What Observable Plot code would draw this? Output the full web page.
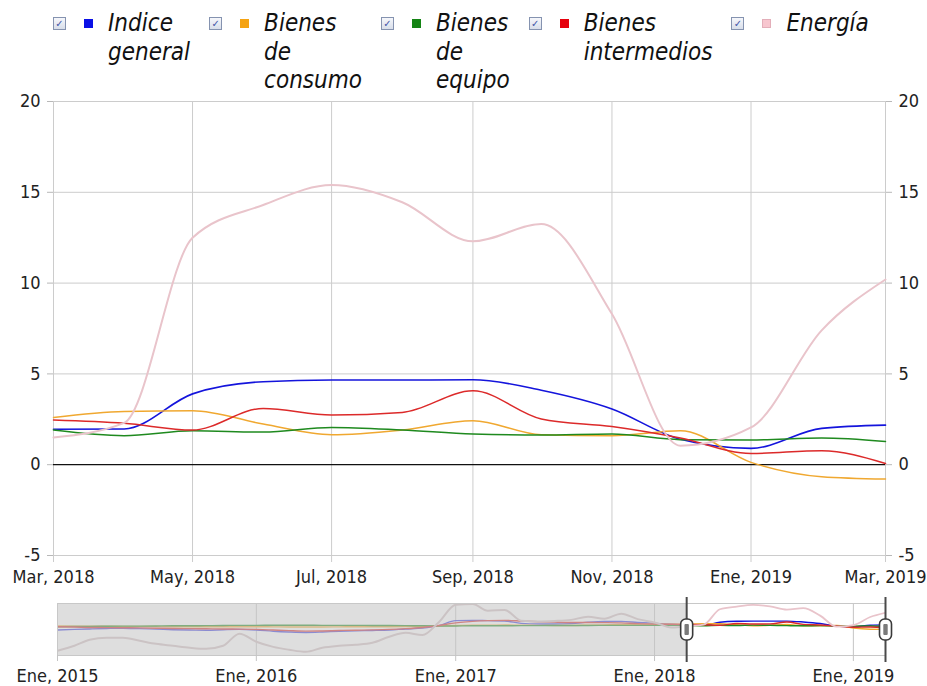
<!DOCTYPE html>
<html><head><meta charset="utf-8">
<script src="https://cdn.jsdelivr.net/npm/d3@7"></script>
<script src="https://cdn.jsdelivr.net/npm/@observablehq/plot@0.6"></script>
<style>
html,body{margin:0;padding:0;background:#fff;}
#chart{position:relative;width:927px;height:686px;overflow:hidden;color:#222;}
#legend{position:absolute;left:53px;top:9px;display:flex;align-items:flex-start;}
.item{display:flex;align-items:flex-start;margin-right:19px;}
.cb{box-sizing:border-box;width:13px;height:13px;border:1px solid #8593b0;background:linear-gradient(#f6f7fb,#d8deea);margin-top:8px;margin-right:18px;font:bold 10px/11px "DejaVu Sans",sans-serif;text-align:center;color:#3f55a8;}
.sw{width:9px;height:9px;margin-top:10px;margin-right:15px;}
.lab{font-style:italic;width:min-content;line-height:28.5px;color:#111;}
#main{position:absolute;left:0;top:90px;}
#nav{position:absolute;left:0;top:593px;}
</style></head><body>
<div id="chart"><div id="legend"></div><div id="main"></div><div id="nav"></div></div>
<script>
// ---------- data ----------
const seriesNames = ["Indice general", "Bienes de consumo", "Bienes de equipo", "Bienes intermedios", "Energía"];
const monthNames = ["Ene","Feb","Mar","Abr","May","Jun","Jul","Ago","Sep","Oct","Nov","Dic"];
const months = ["2018-03-01","2018-04-01","2018-05-01","2018-06-01","2018-07-01","2018-08-01","2018-09-01",
                "2018-10-01","2018-11-01","2018-12-01","2019-01-01","2019-02-01","2019-03-01"];
const indiceGeneral     = [1.95, 1.97, 3.9, 4.57, 4.66, 4.66, 4.68, 4.1, 3.07, 1.4, 0.9, 2.0, 2.18];
const bienesConsumo     = [2.6, 2.93, 2.97, 2.24, 1.65, 1.91, 2.42, 1.65, 1.6, 1.87, 0.13, -0.66, -0.79];
const bienesEquipo      = [1.91, 1.6, 1.87, 1.8, 2.05, 1.91, 1.69, 1.63, 1.69, 1.38, 1.36, 1.47, 1.28];
const bienesIntermedios = [2.46, 2.28, 1.91, 3.1, 2.74, 2.88, 4.07, 2.52, 2.1, 1.47, 0.62, 0.77, 0.07];
const energia           = [1.5, 2.3, 12.5, 14.3, 15.4, 14.45, 12.3, 13.25, 8.3, 1.05, 2.05, 7.4, 10.2];
const yTicks = [-5, 0, 5, 10, 15, 20];

// navigator history: Ene 2015 .. Feb 2018 (monthly)
const navIndice = [-1.2,-0.8,-0.5,-0.2,0.0,-0.3,-0.6,-1.0,-1.2,-1.3,-1.0,-0.8,
  -1.2,-2.0,-2.5,-2.8,-2.5,-2.0,-1.7,-1.5,-1.2,-0.5,0.1,1.7,
  5.0,5.2,5.0,4.8,3.2,2.8,2.8,3.0,4.0,4.5,4.5,3.8, 3.2,2.6];
const navConsumo = [1.5,1.4,1.3,1.3,1.2,1.2,1.1,1.0,1.0,1.0,1.0,1.0,
  1.0,0.9,0.8,0.8,0.8,0.9,1.0,1.0,1.0,1.1,1.2,1.5,
  1.8,2.0,2.0,2.1,2.0,1.9,1.8,1.8,2.0,2.2,2.4,2.5, 2.6,2.6];
const navEquipo = [1.0,1.1,1.2,1.3,1.4,1.4,1.5,1.6,1.6,1.7,1.8,1.9,
  1.9,2.0,2.0,2.0,1.9,1.9,1.9,1.8,1.8,1.7,1.6,1.5,
  1.5,1.6,1.6,1.6,1.7,1.7,1.8,1.8,1.8,1.9,1.9,1.9, 1.9,1.9];
const navIntermedios = [1.0,0.8,0.5,0.4,0.3,0.2,0.0,-0.2,-0.3,-0.4,-0.5,-0.6,
  -0.8,-1.2,-1.6,-1.9,-1.8,-1.5,-1.3,-1.1,-0.8,-0.3,0.5,1.8,
  3.5,4.5,5.0,5.2,4.8,4.3,4.0,3.8,3.8,3.7,3.5,3.0, 2.7,2.6];
const navEnergia = [-14.9,-11.6,-7.6,-6.3,-6.3,-8.3,-10.3,-11.6,-12.9,-13.6,-11.6,-3.6,
  -8.9,-12.3,-14.2,-15.6,-12.9,-11.6,-10.9,-9.6,-5.6,-3.0,-4.5,4.0,
  15.5,16.0,11.6,12.0,5.0,4.5,4.8,5.5,7.6,6.3,9.6,6.0, 3.8,0.5];

// ---------- styles ----------
const lineColors = ["#1414dc", "#f0a830", "#1f8a1f", "#dc2a2a", "#e9c4cb"];
const navHistColors = ["#3a3ae0", "#f0a830", "#1f8a1f", "#dc2a2a", "#d2bfc2"];
const legendColors = ["#0a10e6", "#f5a312", "#148414", "#e6000c", "#f7c6cf"];
const lineWidths = [1.6, 1.5, 1.5, 1.5, 2];

function fontAvailable(name) {
  const ctx = document.createElement("canvas").getContext("2d");
  const s = "Mar, 2018 Bienes intermedios";
  for (const base of ["monospace", "serif"]) {
    ctx.font = `40px ${base}`; const w0 = ctx.measureText(s).width;
    ctx.font = `40px "${name}", ${base}`; const w1 = ctx.measureText(s).width;
    if (Math.abs(w0 - w1) > 0.01) return true;
  }
  return false;
}
const condensed = fontAvailable("DejaVu Sans Condensed");
const FONT = condensed ? '"DejaVu Sans Condensed", "DejaVu Sans", sans-serif' : '"DejaVu Sans", sans-serif';
const TICK_PX = condensed ? 18 : 16;
const LEG_PX = condensed ? 24 : 21.5;

// ---------- legend ----------
const legend = document.getElementById("legend");
seriesNames.forEach((name, i) => {
  const item = document.createElement("div"); item.className = "item";
  const cb = document.createElement("div"); cb.className = "cb"; cb.textContent = "✓";
  const sw = document.createElement("div"); sw.className = "sw"; sw.style.background = legendColors[i];
  if (i === 4) { sw.style.boxSizing = "border-box"; sw.style.border = "1px solid #e3aeb9"; }
  const lab = document.createElement("div"); lab.className = "lab"; lab.textContent = name;
  lab.style.fontFamily = FONT; lab.style.fontSize = LEG_PX + "px";
  item.append(cb, sw, lab); legend.append(item);
});

// ---------- main chart ----------
const dates = months.map(d => new Date(d + "T00:00:00Z"));
const mainValues = [indiceGeneral, bienesConsumo, bienesEquipo, bienesIntermedios, energia];
const fmt = d => `${monthNames[d.getUTCMonth()]}, ${d.getUTCFullYear()}`;
const fmtY = v => String(v);
const xTicks = d3.utcMonth.every(2).range(dates[0], new Date(+dates[dates.length - 1] + 1));

const main = Plot.plot({
  width: 927, height: 503,
  marginTop: 11, marginBottom: 38, marginLeft: 53, marginRight: 42,
  style: {fontFamily: FONT, fontSize: TICK_PX + "px", color: "#222", background: "transparent", overflow: "visible"},
  x: {type: "utc", domain: [dates[0], dates[dates.length - 1]]},
  y: {domain: [-5, 20]},
  marks: [
    Plot.gridY(yTicks.filter(v => v !== 0), {stroke: "#cccccc", strokeOpacity: 1}),
    Plot.gridX(xTicks, {stroke: "#cccccc", strokeOpacity: 1}),
    Plot.axisY(yTicks, {anchor: "left", tickSize: 6, tickPadding: 7, stroke: "#b8b8b8", fill: "#222", tickFormat: fmtY, label: null}),
    Plot.axisY(yTicks, {anchor: "right", tickSize: 6, tickPadding: 7, stroke: "#b8b8b8", fill: "#222", tickFormat: fmtY, label: null}),
    Plot.axisX(xTicks, {anchor: "bottom", tickSize: 7, tickPadding: 8, stroke: "#cccccc", fill: "#222", tickFormat: fmt, label: null}),
    Plot.ruleY([0], {stroke: "#111", strokeWidth: 1.3}),
    ...mainValues.map((vals, i) => Plot.line(vals.map((v, j) => ({date: dates[j], value: v})),
      {x: "date", y: "value", stroke: lineColors[i], strokeWidth: lineWidths[i], curve: "monotone-x"}))
  ]
});
document.getElementById("main").append(main);

// ---------- navigator ----------
const navDates = d3.utcMonth.range(new Date("2015-01-01T00:00:00Z"), dates[0]);
const navHistory = [navIndice, navConsumo, navEquipo, navIntermedios, navEnergia];
const allDates = navDates.concat(dates);
const navTicks = d3.utcYear.range(allDates[0], new Date(+dates[dates.length - 1] + 1));
const selStart = dates[0], selEnd = dates[dates.length - 1];

function roundRect(w, h, r) {
  return {draw(ctx) {
    ctx.moveTo(-w + r, -h); ctx.lineTo(w - r, -h); ctx.arcTo(w, -h, w, -h + r, r);
    ctx.lineTo(w, h - r); ctx.arcTo(w, h, w - r, h, r);
    ctx.lineTo(-w + r, h); ctx.arcTo(-w, h, -w, h - r, r);
    ctx.lineTo(-w, -h + r); ctx.arcTo(-w, -h, -w + r, -h, r); ctx.closePath();
  }};
}
const knob = roundRect(6, 10.5, 5);
const knobBar = roundRect(2.2, 5.5, 1);

const nav = Plot.plot({
  width: 927, height: 93,
  marginTop: 10, marginBottom: 31, marginLeft: 57, marginRight: 42,
  style: {fontFamily: FONT, fontSize: TICK_PX + "px", color: "#222", background: "transparent", overflow: "visible"},
  x: {type: "utc", domain: [allDates[0], selEnd]},
  y: {domain: [-18, 16.3], axis: null},
  marks: [
    Plot.gridX(navTicks, {stroke: "#c4c4c4", strokeOpacity: 1}),
    // history part (behind the gray mask)
    ...navHistory.map((hist, i) => Plot.line(hist.concat(mainValues[i][0]).map((v, j) => ({date: allDates[j], value: v})),
      {x: "date", y: "value", stroke: navHistColors[i], strokeWidth: i === 4 ? 2 : 1.4, curve: "monotone-x", clip: true})),
    Plot.rect([{a: allDates[0], b: selStart}], {x1: "a", x2: "b", fill: "#c6c6c6", fillOpacity: 0.58}),
    // selected part
    ...mainValues.map((vals, i) => Plot.line(vals.map((v, j) => ({date: dates[j], value: v})),
      {x: "date", y: "value", stroke: lineColors[i], strokeWidth: i === 4 ? 1.8 : 1.4, curve: "monotone-x", clip: true})),
    Plot.frame({stroke: "#c8c8c8"}),
    Plot.axisX(navTicks, {anchor: "bottom", tickSize: 6, tickPadding: 8, stroke: "#c4c4c4", fill: "#222", tickFormat: fmt, label: null}),
    Plot.ruleX([selStart, selEnd], {stroke: "#4a4a4a", strokeWidth: 2, insetTop: -6, insetBottom: -7}),
    Plot.dot([selStart, selEnd], {x: d => d, frameAnchor: "middle", symbol: knob, fill: "white", stroke: "#3a3a3a", strokeWidth: 1.6}),
    Plot.dot([selStart, selEnd], {x: d => d, frameAnchor: "middle", symbol: knobBar, fill: "#7a7a7a", stroke: "none"})
  ]
});
document.getElementById("nav").append(nav);
</script>
</body></html>
